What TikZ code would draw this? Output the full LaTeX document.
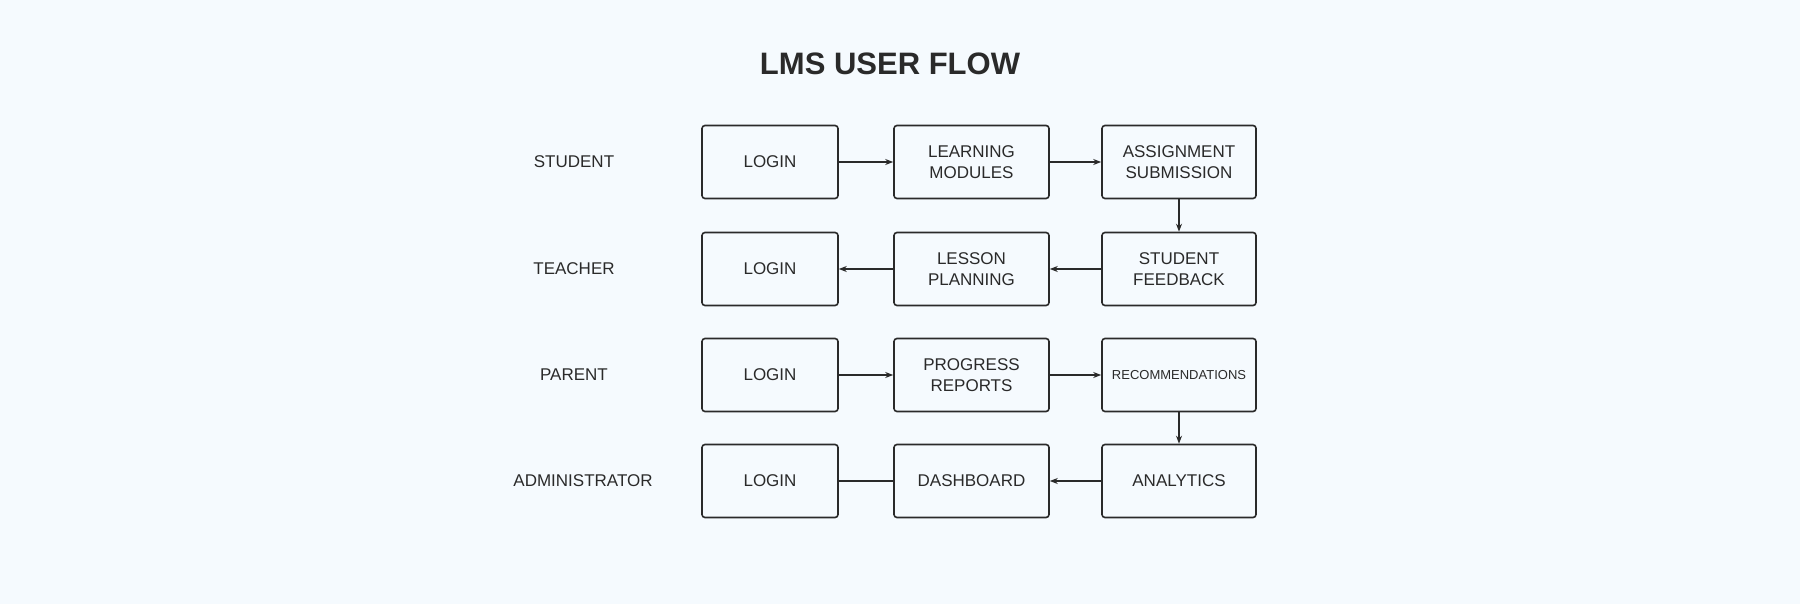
\documentclass[tikz,border=0pt]{standalone}
\usepackage{fontspec}
\setmainfont{Liberation Sans}
\usetikzlibrary{arrows.meta}
\definecolor{bg}{HTML}{F5FAFE}
\definecolor{ink}{HTML}{2A2A2A}
\begin{document}
\begin{tikzpicture}[x=1pt,y=-1pt,
  box/.style={draw=ink,line width=1.6pt,rounded corners=3pt,minimum width=#1,minimum height=73pt,align=center,font=\fontsize{17}{21}\selectfont,text=ink,inner sep=0pt},
  box/.default=136pt,
  lane/.style={font=\fontsize{17}{20}\selectfont,text=ink},
  arr/.style={draw=ink,line width=1.4pt,-{Stealth[length=8pt,width=6pt]}},
  ln/.style={draw=ink,line width=1.4pt}]
\fill[bg] (0,0) rectangle (1800,604);
\useasboundingbox (0,0) rectangle (1800,604);
\node[font=\fontsize{31}{36}\selectfont\bfseries,text=ink] (title) at (890,64) {LMS USER FLOW};
\foreach \n/\t/\y in {l1/STUDENT/162,l2/TEACHER/269,l3/PARENT/375}
  \node[lane] (\n) at (574,\y) {\t};
\node[lane] (l4) at (583,481) {ADMINISTRATOR};
\node[box] (a1) at (770,162) {LOGIN};
\node[box=155pt] (b1) at (971.5,162) {LEARNING\\MODULES};
\node[box=154pt] (c1) at (1179,162) {ASSIGNMENT\\SUBMISSION};
\node[box] (a2) at (770,269) {LOGIN};
\node[box=155pt] (b2) at (971.5,269) {LESSON\\PLANNING};
\node[box=154pt] (c2) at (1179,269) {STUDENT\\FEEDBACK};
\node[box] (a3) at (770,375) {LOGIN};
\node[box=155pt] (b3) at (971.5,375) {PROGRESS\\REPORTS};
\node[box=154pt,font=\fontsize{13}{16}\selectfont] (c3) at (1179,375) {RECOMMENDATIONS};
\node[box] (a4) at (770,481) {LOGIN};
\node[box=155pt] (b4) at (971.5,481) {DASHBOARD};
\node[box=154pt] (c4) at (1179,481) {ANALYTICS};
\draw[arr] (a1) -- (b1);
\draw[arr] (b1) -- (c1);
\draw[arr] (c1) -- (c2);
\draw[arr] (c2) -- (b2);
\draw[arr] (b2) -- (a2);
\draw[arr] (a3) -- (b3);
\draw[arr] (b3) -- (c3);
\draw[arr] (c3) -- (c4);
\draw[arr] (c4) -- (b4);
\draw[ln] (a4) -- (b4);
\end{tikzpicture}
\end{document}
